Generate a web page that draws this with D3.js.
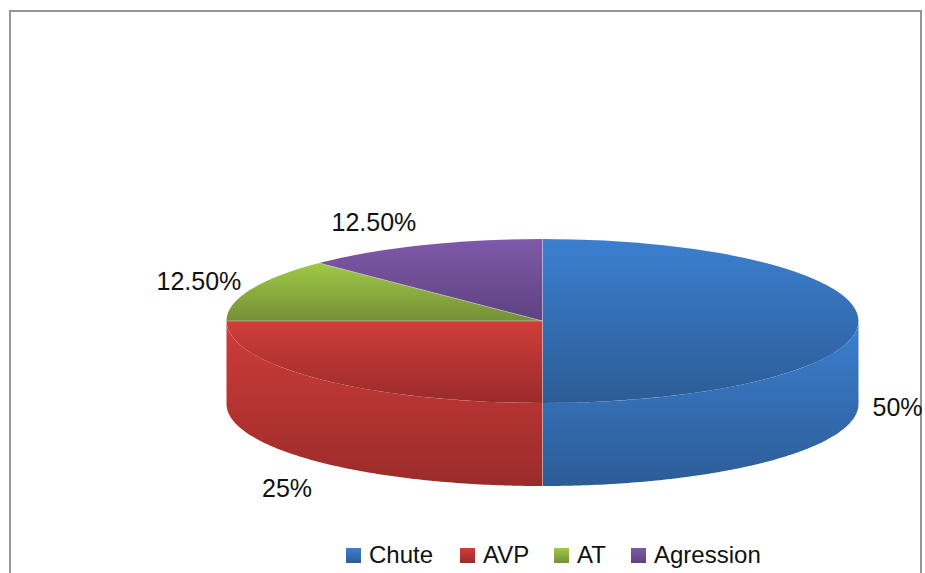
<!DOCTYPE html>
<html>
<head>
  <meta charset="utf-8">
  <title>Pie</title>
  <script src="https://d3js.org/d3.v7.min.js"></script>
  <style>
    html, body { margin: 0; padding: 0; background: #fff; overflow: hidden; }
    text { font-family: "Liberation Sans", sans-serif; font-size: 24px; fill: #111; }
    .value text { font-size: 25px; }
  </style>
</head>
<body>
<script>
  const categories = ["Chute", "AVP", "AT", "Agression"];
  const values = [50, 25, 12.5, 12.5];
  const valueLabels = ["50%", "25%", "12.50%", "12.50%"];
  const lightColors = ["#3c7fd0", "#cf3d3a", "#a0c947", "#8059aa"];
  const darkColors = ["#2c5c96", "#9a2b2a", "#748f38", "#5e4280"];

  const width = 925, height = 573;
  const cx = 542.5, cy = 321, rx = 316, ry = 82, depth = 83;
  // label offsets from the slice's point on the rim
  const labelNudge = [[14, 95], [-57, 118], [-94, 0], [-90, -14]];
  const legendSwatchX = [346, 460, 554, 631];
  const legendY = 548, swatch = 15;

  const svg = d3.select("body").append("svg")
    .attr("width", width)
    .attr("height", height);

  svg.append("rect")
    .attr("x", 10).attr("y", 11)
    .attr("width", 911).attr("height", 600)
    .attr("fill", "none")
    .attr("stroke", "#969696")
    .attr("stroke-width", 2);

  const defs = svg.append("defs");
  categories.forEach(function(c, i){
    const grad = defs.append("linearGradient")
      .attr("id", "grad" + i)
      .attr("x1", 0).attr("y1", 0).attr("x2", 0).attr("y2", 1);
    grad.append("stop").attr("offset", "0%").attr("stop-color", lightColors[i]);
    grad.append("stop").attr("offset", "100%").attr("stop-color", darkColors[i]);
  });

  const pie = d3.pie().sort(null)(values);

  const rimX = a => cx + rx * Math.sin(a),
        rimY = a => cy - ry * Math.cos(a);

  // side wall, only the front half of the rim is visible
  const wall = d3.area()
    .x(a => rimX(a))
    .y0(a => rimY(a))
    .y1(a => rimY(a) + depth);

  const sides = svg.append("g");
  pie.forEach(function(d, i){
    const a0 = Math.max(d.startAngle, Math.PI / 2),
          a1 = Math.min(d.endAngle, Math.PI * 1.5);
    if (a1 <= a0) return;
    const steps = d3.range(0, 121).map(k => a0 + (a1 - a0) * k / 120);
    sides.append("path")
      .attr("d", wall(steps))
      .attr("fill", "url(#grad" + i + ")");
  });

  const arc = d3.arc().innerRadius(0).outerRadius(rx);

  svg.append("g")
    .attr("transform", `translate(${cx},${cy}) scale(1,${ry / rx})`)
    .selectAll("path")
    .data(pie)
    .join("path")
      .attr("d", arc)
      .attr("fill", (d, i) => "url(#grad" + i + ")");

  // thin pale seams between the slices
  const seams = svg.append("g")
    .attr("stroke", "rgba(255,255,255,0.35)")
    .attr("stroke-width", 1);

  seams.selectAll("line")
    .data(pie)
    .join("line")
      .attr("x1", cx)
      .attr("y1", cy)
      .attr("x2", d => rimX(d.startAngle))
      .attr("y2", d => rimY(d.startAngle));

  seams.append("line")
    .attr("x1", rimX(pie[1].startAngle))
    .attr("y1", rimY(pie[1].startAngle))
    .attr("x2", rimX(pie[1].startAngle))
    .attr("y2", rimY(pie[1].startAngle) + depth);

  svg.append("g")
    .attr("class", "value")
    .selectAll("text")
    .data(pie)
    .join("text")
      .attr("x", (d, i) => rimX((d.startAngle + d.endAngle) / 2) + labelNudge[i][0])
      .attr("y", (d, i) => rimY((d.startAngle + d.endAngle) / 2) + labelNudge[i][1])
      .text((d, i) => valueLabels[i]);

  const legend = svg.append("g")
    .selectAll("g")
    .data(categories)
    .join("g")
      .attr("transform", (d, i) => `translate(${legendSwatchX[i]},${legendY})`);

  legend.append("rect")
    .attr("width", swatch)
    .attr("height", swatch)
    .attr("fill", (d, i) => "url(#grad" + i + ")");

  legend.append("text")
    .attr("x", swatch + 8)
    .attr("y", swatch)
    .text(d => d);
</script>
</body>
</html>
